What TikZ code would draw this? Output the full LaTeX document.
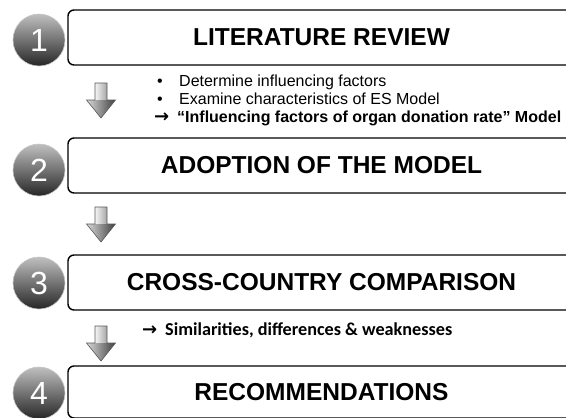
\documentclass[tikz,border=0pt]{standalone}
\usepackage{fontspec}
\setmainfont{Liberation Sans}
\newfontfamily\calibri{Carlito}
\newfontfamily\arrowfont{DejaVu Sans}
\begin{document}
\begin{tikzpicture}[
              x=1pt, y=-1pt,
              stepbox/.style={draw=black,line width=1.4pt,rounded corners=6pt,fill=white,minimum width=507pt,font=\bfseries\fontsize{24.5}{28}\selectfont},
              ball/.style={circle,minimum size=52pt,inner sep=0pt,top color=gray!50,bottom color=black!85,draw=gray!45,line width=0.6pt,text=white,font=\fontsize{32}{36}\selectfont},
              shaftshade/.style={left color=gray!8,right color=gray!70},
              headshade/.style={left color=gray!30,right color=black!75},
              arrowline/.style={draw=black!65,line width=0.6pt,line join=miter},
              note/.style={anchor=base west,inner sep=0pt,font=\fontsize{16}{19}\selectfont},
              boldnote/.style={note,font=\bfseries\fontsize{16}{19}\selectfont},
              tick/.style={anchor=base west,inner sep=0pt,font=\arrowfont\bfseries\fontsize{18}{20}\selectfont}
            ]
            \useasboundingbox (0,0) rectangle (566,418);
            \clip (0,0) rectangle (566,418);

            % Step 1: literature review
            \node[stepbox,minimum height=55pt] (b1) at (321.5,37.5) {LITERATURE REVIEW};
            \node[ball] (c1) at (39,40) {1};

            \node[note] (l1a) at (157,86.5) {\textbullet};
            \node[note] (t1a) at (179,86.5) {Determine influencing factors};
            \node[note] (l1b) at (157,104.5) {\textbullet};
            \node[note] (t1b) at (179,104.5) {Examine characteristics of ES Model};
            \node[tick] (l1c) at (154,122.5) {→};
            \node[boldnote] (t1c) at (177,122.5) {“Influencing factors of organ donation rate” Model};

            % Step 2: adoption
            \node[stepbox,minimum height=55pt] (b2) at (321.5,165.5) {ADOPTION OF THE MODEL};
            \node[ball] (c2) at (39,170) {2};

            % Step 3: comparison
            \node[stepbox,minimum height=55pt] (b3) at (321.5,282.5) {CROSS-COUNTRY COMPARISON};
            \node[ball] (c3) at (39,283) {3};

            \node[tick] (l3a) at (142,335.5) {→};
            \node[note,font=\calibri\bfseries\fontsize{18.2}{21}\selectfont] (t3a) at (165,335.5) {Similarities, differences \& weaknesses};

            % Step 4: recommendations
            \node[stepbox,minimum height=52pt] (b4) at (321.5,392) {RECOMMENDATIONS};
            \node[ball] (c4) at (39,393) {4};

            % Block arrows between the steps
            \foreach \y in {83,207,326} {
              \shade[shaftshade] (95,\y) rectangle (107,\y+17);
              \shade[headshade] (86.5,\y+17) -- (115.5,\y+17) -- (101,\y+35) -- cycle;
              \draw[arrowline] (95,\y) -- (107,\y) -- (107,\y+17) -- (115.5,\y+17) -- (101,\y+35) -- (86.5,\y+17) -- (95,\y+17) -- cycle;
            }

            \end{tikzpicture}
\end{document}
